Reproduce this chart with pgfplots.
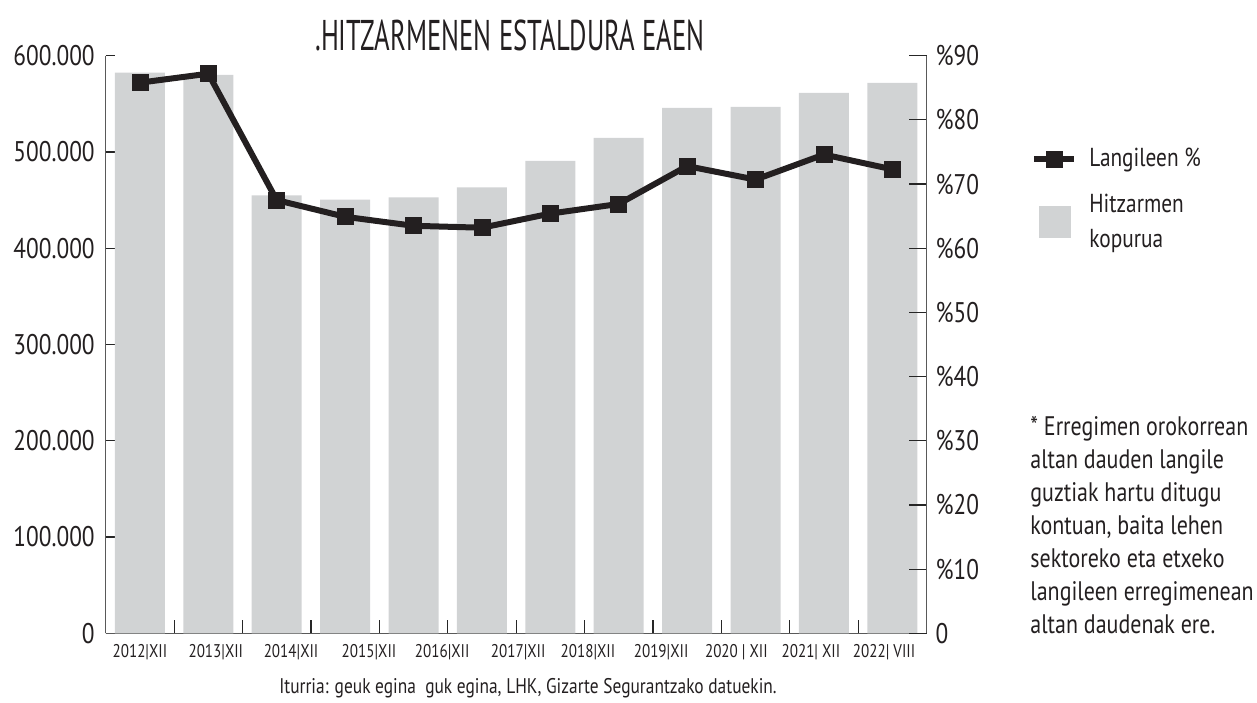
\documentclass[border=0pt]{standalone}
\usepackage{pgfplots}
\pgfplotsset{compat=1.18}
\usepackage{fontspec}
\setmainfont{PT Sans}[FakeStretch=0.82]
\newfontfamily\titlefont{PT Sans}[FakeStretch=0.62]
\definecolor{barfill}{HTML}{D1D3D4}
\definecolor{ink}{HTML}{231F20}
\pgfplotsset{mylineleg/.style={legend image code/.code={\draw[mark repeat=2,mark phase=2,##1] plot coordinates {(0pt,0pt) (10pt,0pt) (20pt,0pt)};}},
  myboxleg/.style={legend image code/.code={\fill[barfill] (2.5pt,-7.75pt) rectangle (18pt,7.75pt);}}}
\begin{document}
\begin{tikzpicture}[x=1pt,y=1pt]
\path[use as bounding box] (0,0) rectangle (628.5,351);
\begin{axis}[
  at={(52.85pt,34.35pt)}, anchor=south west,
  width=410.4pt, height=288.8pt, scale only axis,
  xmin=-0.5, xmax=11.5, ymin=0, ymax=600000,
  axis x line*=bottom, axis y line*=left,
  axis line style={black!65, line width=0.6pt},
  tick align=inside,
  xtick={0.5,1.5,...,10.5}, xticklabels={},
  xtick style={/pgfplots/major tick length=6.5pt, black!85, line width=0.6pt},
  extra x ticks={0,1.11,2.21,3.35,4.42,5.53,6.55,7.62,8.72,9.81,10.88},
  extra x tick labels={2012|XII,2013|XII,2014|XII,2015|XII,2016|XII,2017|XII,2018|XII,2019|XII,2020 | XII,2021| XII,2022| VIII},
  extra x tick style={xtick style={/pgfplots/major tick length=0pt, draw=none}},
  xticklabel style={font=\fontsize{9.2}{10}\selectfont, text=ink, yshift=-2pt},
  ytick={0,100000,200000,300000,400000,500000,600000},
  yticklabels={0,100.000,200.000,300.000,400.000,500.000,600.000},
  scaled y ticks=false,
  ytick style={/pgfplots/major tick length=4.5pt, black!85, line width=0.6pt},
  yticklabel style={font=\fontsize{14.2}{16}\selectfont, text=ink, xshift=-2pt},
]
\addplot[ybar, bar width=25pt, fill=barfill, draw=none] coordinates {
(0,582400) (1,580000) (2,454900) (3,450400) (4,452800) (5,463200)
(6,490800) (7,514700) (8,545800) (9,546800) (10,561300) (11,571700)};
\end{axis}
\begin{axis}[
  at={(52.85pt,34.35pt)}, anchor=south west,
  width=410.4pt, height=288.8pt, scale only axis,
  xmin=-0.5, xmax=11.5, ymin=0, ymax=90,
  axis x line=none, axis y line*=right,
  axis line style={black!65, line width=0.6pt},
  tick align=inside,
  ytick={0,10,...,90},
  yticklabels={0,\%10,\%20,\%30,\%40,\%50,\%60,\%70,\%80,\%90},
  ytick style={/pgfplots/major tick length=9pt, black!85, line width=0.6pt},
  yticklabel style={font=\fontsize{14.2}{16}\selectfont, text=ink, xshift=1pt},
  legend style={at={(1.12,0.854)}, anchor=north west, draw=none, fill=none,
    font=\fontsize{13}{17.5}\selectfont, text=ink,
    cells={anchor=west, align=left}, row sep=8pt},
]
\addplot[ink, line width=3pt, mark=square*, mark size=4pt, mark options={solid, fill=ink, line width=0.4pt}, mylineleg] coordinates {
(0,85.8) (1,87.2) (2,67.5) (3,64.9) (4,63.5) (5,63.2)
(6,65.4) (7,66.9) (8,72.8) (9,70.7) (10,74.6) (11,72.3)};
\addlegendentry{\hspace*{4pt}Langileen \%}
\addlegendimage{myboxleg}
\addlegendentry{\hspace*{4pt}Hitzarmen\\\hspace*{4pt}kopurua}
\end{axis}
\node[font=\titlefont\fontsize{21.5}{24}\selectfont, text=ink] at (255,333.5) {.HITZARMENEN ESTALDURA EAEN};
\node[font=\fontsize{10.6}{12}\selectfont, text=ink] at (264,7) {Iturria: geuk egina\ \ guk egina, LHK, Gizarte Segurantzako datuekin.};
\node[anchor=north west, align=left, inner sep=0pt, font=\fontsize{13.4}{16.5}\selectfont, text=ink] at (515,143) {* Erregimen orokorrean\\altan dauden langile\\guztiak hartu ditugu\\kontuan, baita lehen\\sektoreko eta etxeko\\langileen erregimenean\\altan daudenak ere.};
\end{tikzpicture}
\end{document}
